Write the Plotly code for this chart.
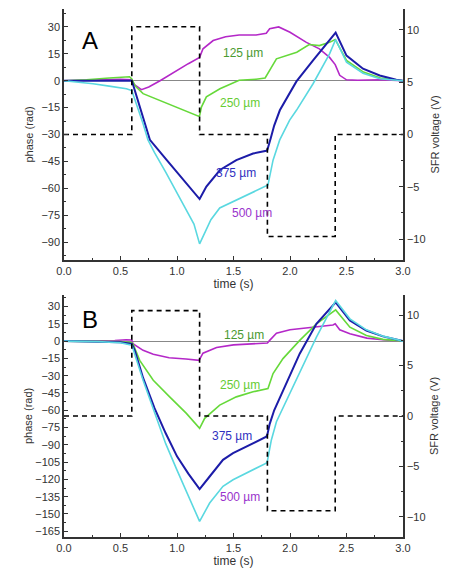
import plotly.graph_objects as go

# phase curves, panel A
tA125 = [0, 0.3, 0.5, 0.6, 0.62, 0.685, 0.75, 0.85, 1.0, 1.1, 1.2, 1.23, 1.32, 1.43, 1.55, 1.7, 1.79, 1.82, 1.9, 2.0, 2.145, 2.26, 2.35, 2.4, 2.44, 2.5, 2.6, 2.8, 3.0]
pA125 = [0, 0.5, 0.8, 0.5, -2, -5, -3.5, 0, 6, 9.5, 13, 17.8, 22.4, 24.5, 25.5, 25.5, 26.5, 29, 30, 27, 21.4, 17.8, 13, 9, 3, 0.5, 0.3, 0.5, 0]

tA250 = [0, 0.2, 0.4, 0.5, 0.58, 0.6, 0.63, 0.7, 0.85, 1.0, 1.19, 1.2, 1.216, 1.26, 1.38, 1.55, 1.7, 1.78, 1.82, 1.88, 2.06, 2.17, 2.26, 2.35, 2.4, 2.5, 2.65, 2.8, 3.0]
pA250 = [0, 0.5, 1.5, 2, 2.2, 1, -3, -7.2, -11, -15, -19.8, -19.5, -14.7, -9, -4.5, 0.3, 0.8, 1.5, 5.7, 12.2, 15.9, 20.2, 19.6, 21.4, 23, 11.3, 4.8, 1.5, 0]

tA375 = [0, 0.3, 0.5, 0.6, 0.61, 0.67, 0.714, 0.76, 0.906, 1.053, 1.2, 1.26, 1.38, 1.525, 1.673, 1.79, 1.8, 1.83, 1.86, 1.91, 2.057, 2.204, 2.35, 2.404, 2.5, 2.646, 2.794, 2.94, 3.0]
pA375 = [0, 0, 0, 0, -2, -14.7, -23, -33, -44, -55.2, -66, -59, -49.8, -44.3, -40.6, -39.1, -38.5, -32, -25, -16.5, -0.4, 11.3, 22.4, 26.8, 14, 6.7, 2.9, 0.5, 0]

tA500 = [0, 0.1, 0.257, 0.4, 0.552, 0.6, 0.62, 0.7, 0.743, 0.8, 0.9, 1.0, 1.083, 1.15, 1.2, 1.25, 1.3, 1.378, 1.525, 1.673, 1.805, 1.85, 1.909, 1.997, 2.057, 2.204, 2.35, 2.404, 2.5, 2.646, 2.794, 3.0]
pA500 = [0, -0.5, -1.7, -3, -4.5, -5.5, -9, -24, -33, -40, -51, -62.5, -72, -80, -91, -84, -77.5, -71, -66.5, -61.9, -58.2, -44.3, -33, -22, -16.5, -1.7, 15, 23, 10.3, 4.2, 1.1, 0]

# phase curves, panel B
tB125 = [0, 0.3, 0.45, 0.55, 0.6, 0.61, 0.7, 0.79, 0.93, 1.08, 1.195, 1.23, 1.35, 1.5, 1.65, 1.8, 1.82, 1.88, 2.0, 2.23, 2.38, 2.4, 2.44, 2.53, 2.68, 2.82, 3.0]
pB125 = [0, 0, 0.5, 1.2, 1.0, -2.3, -8, -11.5, -14.4, -15.5, -16.7, -10.5, -5.5, -3.3, -2.2, -1.7, 0.6, 6.9, 9.8, 12.1, 14, 15, 9.8, 6.4, 2.6, 1.2, 0]

tB250 = [0, 0.3, 0.5, 0.6, 0.61, 0.67, 0.79, 0.935, 1.083, 1.2, 1.245, 1.378, 1.525, 1.673, 1.805, 1.835, 1.85, 1.938, 2.086, 2.234, 2.404, 2.53, 2.676, 2.823, 3.0]
pB250 = [0, 0, -0.5, -1.5, -2.3, -16.7, -34, -48.4, -62.7, -75.7, -67, -55.5, -48.4, -44, -41.1, -32.5, -28.2, -15.2, 0.6, 15, 27.1, 12.1, 4.9, 1.5, 0]

tB375 = [0, 0.3, 0.5, 0.6, 0.626, 0.7, 0.8, 0.9, 1.0, 1.1, 1.2, 1.289, 1.407, 1.496, 1.643, 1.79, 1.8, 1.82, 1.86, 1.94, 2.086, 2.234, 2.404, 2.53, 2.676, 2.823, 2.94, 3.0]
pB375 = [0, -0.5, -1, -2.5, -8, -32, -58, -80, -100, -115, -128.4, -117.5, -103, -97.3, -90.1, -83, -81, -72, -60, -42.6, -10.9, 15, 33.7, 17.9, 9.2, 4.1, 1, 0]

tB500 = [0, 0.3, 0.5, 0.6, 0.7, 0.8, 0.9, 1.0, 1.1, 1.2, 1.289, 1.407, 1.496, 1.643, 1.79, 1.8, 1.835, 1.88, 1.909, 2.086, 2.234, 2.404, 2.53, 2.676, 2.823, 3.0]
pB500 = [0, -0.5, -1.5, -3.5, -34, -62, -89, -112, -135, -156.5, -140.5, -126, -120.3, -113.2, -105.9, -104, -85.8, -70, -64, -28, 3.5, 35.2, 19.3, 9.8, 4.3, 0]

# SFR voltage steps
stepTime = [0, 0.6, 1.2, 1.8, 2.4, 3.0]
voltA = [0, 10.3, 0, -9.75, 0, 0]
voltB = [0, 10.45, 0, -9.4, 0, 0]

depthLabels = ["125 µm", "250 µm", "375 µm", "500 µm"]
labelPosA = [(1.58, 15.7), (1.555, -12.4), (1.525, -51.7), (1.66, -73.9)]
labelPosB = [(1.593, 4.9), (1.555, -37.7), (1.49, -82), (1.555, -135.3)]

lineColors = ["#b428c8", "#66d93a", "#1c1ca8", "#5ad8e0"]
lineWidths = [1.6, 1.6, 2.0, 1.6]
labelColors = ["#4a9a30", "#66cc33", "#3030c0", "#9933cc"]

FONT = "Liberation Sans, Arial, sans-serif"
AXCOL = "#333333"

W, H = 472, 575
L, R, T, B = 64, 69, 9, 38
pw, ph = W - L - R, H - T - B


def px(x):
    return (x - L) / pw


def py(y):
    return (H - B - y) / ph


fig = go.Figure()

seriesA = [(tA125, pA125), (tA250, pA250), (tA375, pA375), (tA500, pA500)]
seriesB = [(tB125, pB125), (tB250, pB250), (tB375, pB375), (tB500, pB500)]

for i, (t, p) in enumerate(seriesA):
    fig.add_trace(go.Scatter(x=t, y=p, mode="lines", xaxis="x", yaxis="y",
                             line=dict(color=lineColors[i], width=lineWidths[i]), showlegend=False))
fig.add_trace(go.Scatter(x=stepTime, y=voltA, mode="lines", xaxis="x", yaxis="y2",
                         line=dict(color="black", width=1.6, dash="5px,4px", shape="hv"), showlegend=False))

for i, (t, p) in enumerate(seriesB):
    fig.add_trace(go.Scatter(x=t, y=p, mode="lines", xaxis="x2", yaxis="y3",
                             line=dict(color=lineColors[i], width=lineWidths[i]), showlegend=False))
fig.add_trace(go.Scatter(x=stepTime, y=voltB, mode="lines", xaxis="x2", yaxis="y4",
                         line=dict(color="black", width=1.6, dash="5px,4px", shape="hv"), showlegend=False))


def xAxis(anchor):
    return dict(anchor=anchor, domain=[0, 1], range=[0, 3], dtick=0.5, tickformat=".1f",
                ticks="inside", ticklen=4, tickcolor=AXCOL, showline=True, linecolor=AXCOL,
                linewidth=1.5, showgrid=False, zeroline=False,
                minor=dict(ticks="inside", ticklen=2, dtick=0.25, tickcolor=AXCOL),
                tickfont=dict(family=FONT, size=11, color=AXCOL),
                title=dict(text="time (s)", standoff=3, font=dict(family=FONT, size=12, color=AXCOL)))


def leftAxis(domain, rng, anchor):
    return dict(anchor=anchor, domain=domain, range=rng, dtick=15, tick0=0,
                ticks="inside", ticklen=4, tickcolor=AXCOL, showline=True, linecolor=AXCOL,
                linewidth=1.5, showgrid=False, zeroline=True, zerolinecolor="#888888",
                zerolinewidth=1, minor=dict(ticks="inside", ticklen=2, dtick=7.5, tickcolor=AXCOL),
                tickfont=dict(family=FONT, size=11, color=AXCOL))


def rightAxis(over, anchor):
    return dict(overlaying=over, anchor=anchor, side="right", range=[-12, 12], dtick=5,
                ticks="inside", ticklen=4, tickcolor=AXCOL, showline=True, linecolor=AXCOL,
                linewidth=1.5, showgrid=False, zeroline=False,
                minor=dict(ticks="inside", ticklen=2, dtick=2.5, tickcolor=AXCOL),
                tickfont=dict(family=FONT, size=11, color=AXCOL))


annots = []
for i, lab in enumerate(depthLabels):
    annots.append(dict(x=labelPosA[i][0], y=labelPosA[i][1], xref="x", yref="y", text=lab,
                       showarrow=False, font=dict(family=FONT, size=12, color=labelColors[i])))
    annots.append(dict(x=labelPosB[i][0], y=labelPosB[i][1], xref="x2", yref="y3", text=lab,
                       showarrow=False, font=dict(family=FONT, size=12, color=labelColors[i])))

for letter, yy in [("A", 41), ("B", 319)]:
    annots.append(dict(x=px(90), y=py(yy), xref="paper", yref="paper", text=letter, showarrow=False,
                       xanchor="center", yanchor="middle",
                       font=dict(family=FONT, size=24, color="black")))

for yc in [(9 + 260) / 2, (295 + 537) / 2]:
    annots.append(dict(x=px(28), y=py(yc), xref="paper", yref="paper", text="phase (rad)",
                       textangle=-90, showarrow=False, xanchor="center", yanchor="middle",
                       font=dict(family=FONT, size=11, color=AXCOL)))
    annots.append(dict(x=px(434), y=py(yc), xref="paper", yref="paper", text="SFR voltage (V)",
                       textangle=-90, showarrow=False, xanchor="center", yanchor="middle",
                       font=dict(family=FONT, size=11, color=AXCOL)))

domA = [py(260), py(9)]
domB = [py(537), py(295)]

fig.update_layout(
    width=W, height=H,
    margin=dict(l=L, r=R, t=T, b=B),
    paper_bgcolor="white", plot_bgcolor="white",
    xaxis=xAxis("y"),
    xaxis2=xAxis("y3"),
    yaxis=leftAxis(domA, [-100, 40], "x"),
    yaxis2=rightAxis("y", "x"),
    yaxis3=leftAxis(domB, [-170, 40], "x2"),
    yaxis4=rightAxis("y3", "x2"),
    annotations=annots,
    showlegend=False,
)

fig.write_html("out.html", config={"displayModeBar": False},
               post_script="document.body.style.margin='0';")
